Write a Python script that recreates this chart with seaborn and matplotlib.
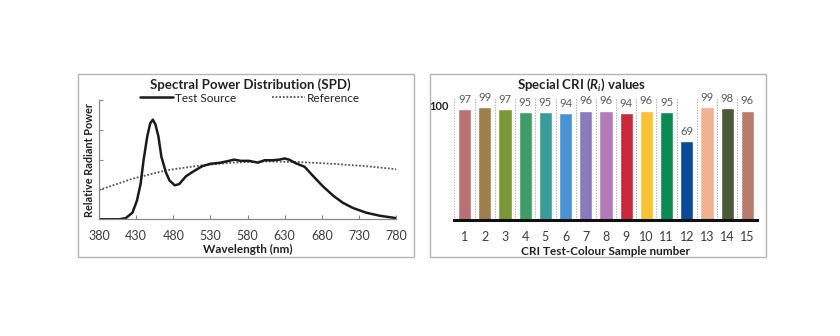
import matplotlib
matplotlib.use("Agg")
import matplotlib.pyplot as plt
import matplotlib.transforms as mtransforms
from matplotlib.patches import Rectangle
import numpy as np
import pandas as pd
import seaborn as sns

# ---- Spectral power distribution ----
wl_test = [380, 395, 407, 416, 425, 431, 436, 440, 445, 449, 452.5, 456, 460, 464,
           470, 475, 482, 488, 497, 508, 519, 530, 544, 555, 562, 571, 582, 594,
           603, 614, 623, 630, 636, 645, 657, 668, 681, 695, 708, 722, 740, 758, 780]
power_test = [0.0, 0.0, 0.0, 0.02, 0.11, 0.31, 0.59, 0.99, 1.39, 1.61, 1.67, 1.59, 1.39, 1.05,
              0.79, 0.65, 0.57, 0.59, 0.72, 0.81, 0.89, 0.93, 0.95, 0.98, 1.0, 0.98, 0.98, 0.95,
              0.99, 0.99, 1.0, 1.02, 1.0, 0.94, 0.88, 0.73, 0.56, 0.40, 0.28, 0.19, 0.11, 0.06, 0.02]
wl_ref = [380, 425, 470, 515, 560, 605, 650, 695, 740, 780]
power_ref = [0.49, 0.68, 0.82, 0.90, 0.95, 0.97, 0.96, 0.93, 0.89, 0.84]
wl_ticks = [380, 430, 480, 530, 580, 630, 680, 730, 780]

# ---- Special CRI values ----
samples = [str(i) for i in range(1, 16)]
cri_values = [97, 99, 97, 95, 95, 94, 96, 96, 94, 96, 95, 69, 99, 98, 96]
sample_colors = ["#b87272", "#9c7f4c", "#7a9838", "#3e9c68", "#3a9c9a", "#4a92d2",
                 "#8a7cbc", "#b27ab8", "#c8283a", "#f8c232", "#0b8a52", "#0b4a98",
                 "#f0b290", "#4a5a38", "#b87c6c"]

sns.set_theme(style="white")
plt.rcParams["font.family"] = ["Lato", "DejaVu Sans"]
plt.rcParams["mathtext.fontset"] = "custom"
plt.rcParams["mathtext.rm"] = "Lato:bold"
plt.rcParams["mathtext.it"] = "Lato:bold:italic"

W, H = 840, 336
fig = plt.figure(figsize=(W / 100, H / 100), dpi=100)


def rect(x0, y0, x1, y1):
    """Pixel box (top-left origin) -> figure fraction rect."""
    return [x0 / W, 1 - y1 / H, (x1 - x0) / W, (y1 - y0) / H]


# panel frames
for x0, y0, x1, y1 in [(77.5, 73.5, 413.5, 256.5), (430, 74, 766, 256.5)]:
    fig.patches.append(Rectangle((x0 / W, 1 - y1 / H), (x1 - x0) / W, (y1 - y0) / H,
                                 transform=fig.transFigure, fill=False,
                                 edgecolor="#b5b5b5", linewidth=1.0))

dark = "#222222"
gray_txt = "#3c3c3c"

# ---------- left: SPD ----------
ax1 = fig.add_axes(rect(99, 100, 396, 219.3))
df_test = pd.DataFrame({"wavelength": wl_test, "power": power_test})
df_ref = pd.DataFrame({"wavelength": wl_ref, "power": power_ref})
sns.lineplot(data=df_ref, x="wavelength", y="power", ax=ax1, color="#555555",
             linestyle=(0, (1, 1)), linewidth=1.3, label="Reference")
sns.lineplot(data=df_test, x="wavelength", y="power", ax=ax1, color="#1a1a1a",
             linewidth=1.8, label="Test Source")
ax1.set_xlim(380, 780)
ax1.set_ylim(0, 2.0)
ax1.set_xticks(wl_ticks)
ax1.set_xticklabels([str(t) for t in wl_ticks], fontsize=9, color=gray_txt)
ax1.set_yticks([0, 0.5, 1.0, 1.5, 2.0])
ax1.set_yticklabels([])
ax1.tick_params(axis="both", direction="in", length=3, width=0.8, color="#8a8a8a",
                left=True, bottom=True)
ax1.tick_params(axis="x", pad=8)
ax1.tick_params(axis="y", pad=1)
for s in ["top", "right"]:
    ax1.spines[s].set_visible(False)
for s in ["left", "bottom"]:
    ax1.spines[s].set_color("#8a8a8a")
    ax1.spines[s].set_linewidth(0.9)
ax1.set_xlabel("Wavelength (nm)", fontsize=8.5, fontweight="bold", color=dark, labelpad=1)
ax1.set_ylabel("Relative Radiant Power", fontsize=7.8, fontweight="bold", color=dark, labelpad=2)
handles, labels = ax1.get_legend_handles_labels()
order = [labels.index("Test Source"), labels.index("Reference")]
ax1.legend([handles[i] for i in order], [labels[i] for i in order], ncol=2,
           loc="center", bbox_to_anchor=(250 / W, 1 - 98 / H), bbox_transform=fig.transFigure,
           frameon=False, fontsize=8.5, handlelength=2.8, handletextpad=0.2,
           columnspacing=3.0, borderaxespad=0, borderpad=0, labelcolor=dark)
fig.text(250 / W, 1 - 85 / H, "Spectral Power Distribution (SPD)", ha="center", va="center",
         fontsize=9.5, fontweight="bold", color=dark)

# ---------- right: CRI bars ----------
ax2 = fig.add_axes(rect(454.5, 98, 757.5, 220))
df_cri = pd.DataFrame({"sample": samples, "value": cri_values})
sns.barplot(data=df_cri, x="sample", y="value", hue="sample", palette=sample_colors,
            order=samples, hue_order=samples, legend=False, width=0.66, ax=ax2,
            saturation=1)
ax2.set_xlim(-0.5, 14.5)
ax2.set_ylim(0, 107)
for k in range(16):
    ax2.axvline(k - 0.5, color="#b0b0b0", linestyle=(0, (1.2, 1.2)), linewidth=0.8, zorder=0)
for cont in ax2.containers:
    ax2.bar_label(cont, padding=3, fontsize=8, color="#595959")
ax2.set_yticks([100])
ax2.set_yticklabels(["100"], fontsize=8, fontweight="bold", color=dark)
offset = mtransforms.ScaledTranslation(0, 9 / 100, fig.dpi_scale_trans)
for lab in ax2.get_yticklabels():
    lab.set_transform(lab.get_transform() + offset)
ax2.tick_params(axis="y", length=0, pad=4)
ax2.tick_params(axis="x", length=0, pad=8, labelsize=9, labelcolor=gray_txt)
for s in ["top", "right", "left"]:
    ax2.spines[s].set_visible(False)
ax2.spines["bottom"].set_color("#111111")
ax2.spines["bottom"].set_linewidth(2.2)
ax2.set_xlabel("CRI Test-Colour Sample number", fontsize=8.5, fontweight="bold",
               color=dark, labelpad=2)
ax2.set_ylabel("")
fig.text(582 / W, 1 - 85 / H, r"Special CRI ($R_i$) values", ha="center", va="center",
         fontsize=9.5, fontweight="bold", color=dark)

fig.savefig("out.png", dpi=100, facecolor="white")
